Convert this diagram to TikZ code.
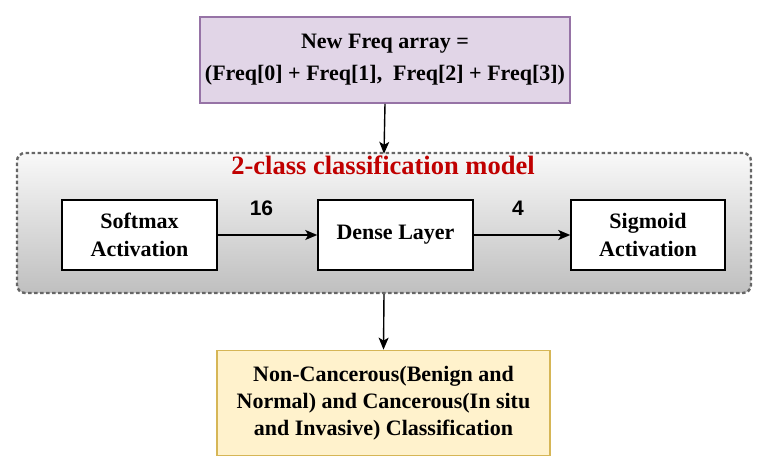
\documentclass[tikz,border=0pt]{standalone}
\usepackage{fontspec}
\setmainfont{Liberation Serif}
\newfontfamily\arialfont{Liberation Sans}
\usepackage{tikz}
\usetikzlibrary{arrows.meta, positioning}
\definecolor{freqfill}{HTML}{E1D5E7}
\definecolor{freqline}{HTML}{9673A6}
\definecolor{outfill}{HTML}{FFF2CC}
\definecolor{outline}{HTML}{D6B656}
\definecolor{modelred}{HTML}{C00000}
\tikzset{layer/.style={draw, line width=1.5pt, fill=white, minimum width=155pt, minimum height=70pt, align=center, font=\fontsize{22}{28}\selectfont\bfseries}}
\tikzset{flow/.style={-{Stealth[length=12pt, width=10pt, inset=3pt]}, line width=1.4pt}}
\tikzset{dims/.style={font=\fontsize{21}{24}\selectfont\arialfont\bfseries}}

\begin{document}
\begin{tikzpicture}[x=1pt, y=-1pt]
            \useasboundingbox (0, 0) rectangle (761, 464);
            \node[draw=freqline, fill=freqfill, line width=1.8pt, minimum width=370pt, minimum height=86pt, align=center, font=\fontsize{22}{32}\selectfont\bfseries] (freq) at (385, 60) {New Freq array =\\(Freq[0] + Freq[1],\ \ Freq[2] + Freq[3])};
            \node[draw=black!60, dashed, dash pattern=on 3.5pt off 2.5pt, line width=2.4pt, rounded corners=8pt, top color=gray!5, bottom color=gray!50, minimum width=734pt, minimum height=140pt] (model) at (384, 223) {};
            \node[text=modelred, font=\fontsize{26.5}{30}\selectfont\bfseries] (title) at (383, 165) {2-class classification model};
            \node[layer] (softmax) at (139.5, 235) {Softmax\\Activation};
            \node[layer] (dense) at (395.5, 235) {Dense Layer};
            \node[layer, minimum width=154pt] (sigmoid) at (648, 235) {Sigmoid\\Activation};
            \node[draw=outline, fill=outfill, line width=1.8pt, minimum width=333pt, minimum height=105pt, align=center, font=\fontsize{22}{27}\selectfont\bfseries] (result) at (383.5, 403) {Non-Cancerous(Benign and\\Normal) and Cancerous(In situ\\and Invasive) Classification};
            \draw[flow] (freq.south) -- ([yshift=-2pt]model.north);
            \draw[flow] (softmax) -- (dense) node [midway, above=15pt, xshift=-6pt, dims] {16};
            \draw[flow] (dense) -- (sigmoid) node [midway, above=15pt, xshift=-4pt, dims] {4};
            \draw[flow] (model.south) -- (result.north);
        \end{tikzpicture}
\end{document}
